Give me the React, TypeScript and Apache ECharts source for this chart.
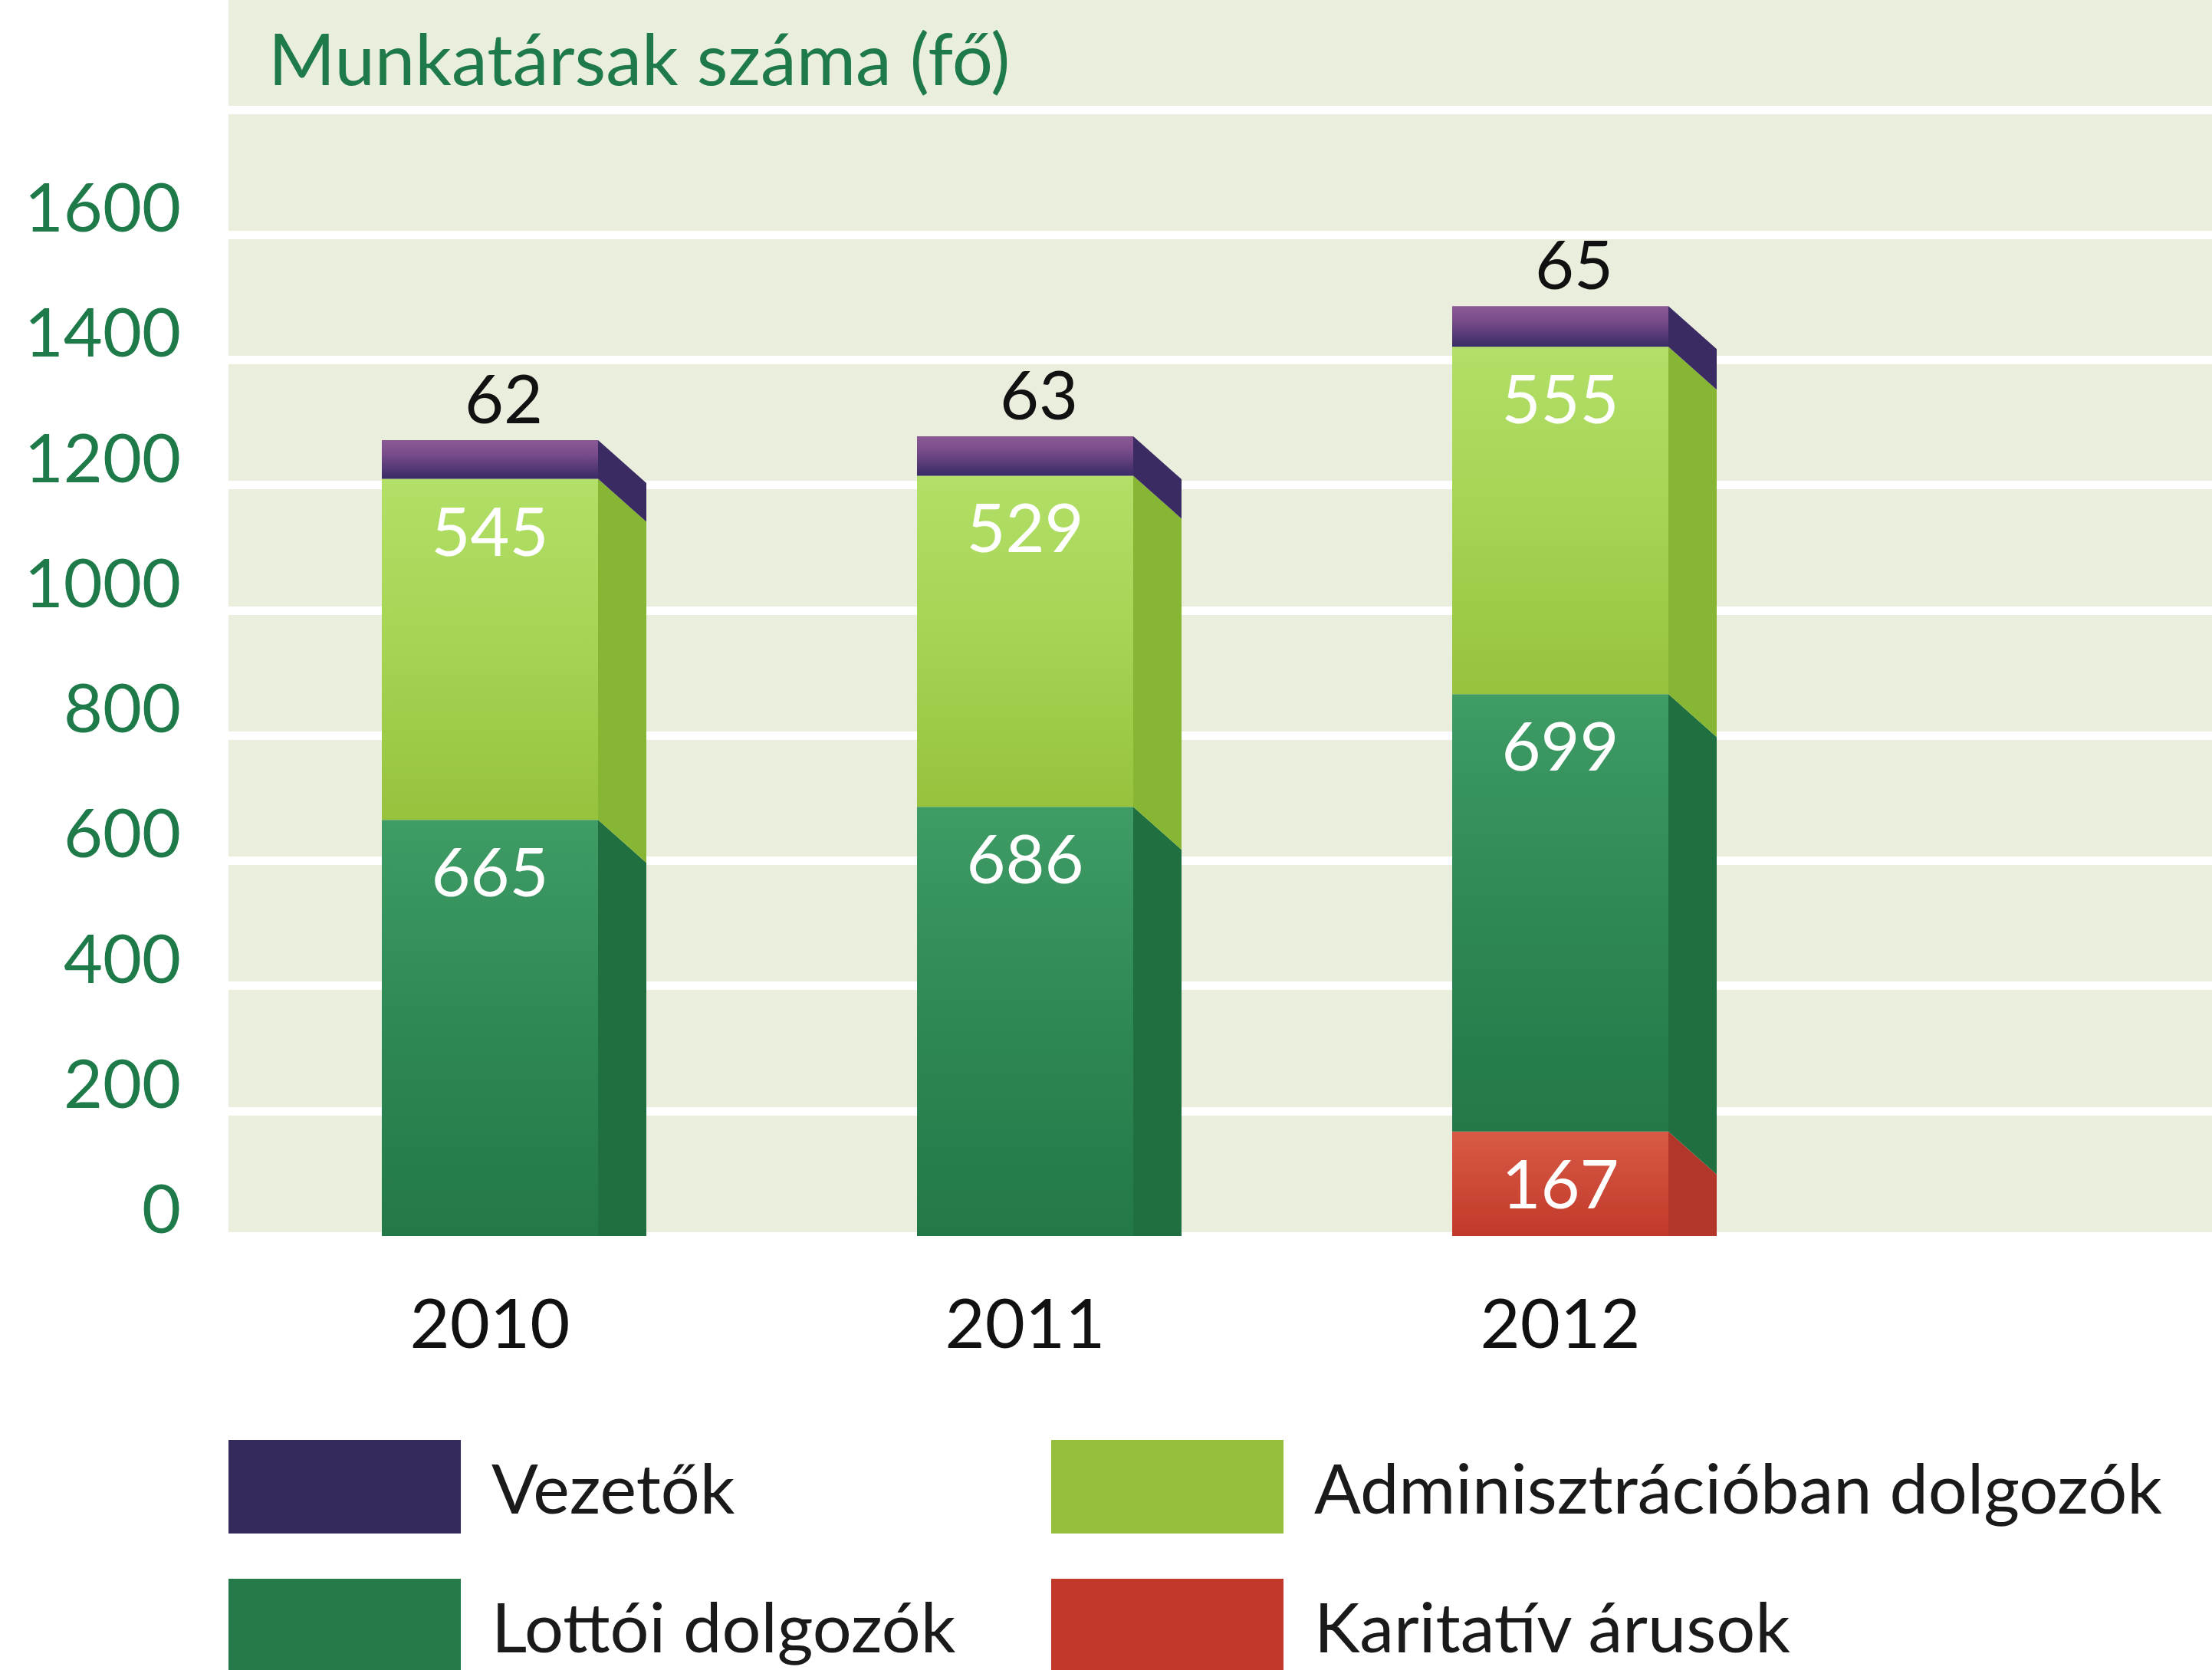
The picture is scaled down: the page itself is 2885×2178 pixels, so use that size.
import React, { useEffect, useRef } from 'react';
import * as echarts from 'echarts';

const CATEGORIES = ['2010', '2011', '2012'];
const KARITATIV = [0, 0, 167];
const LOTTOI = [665, 686, 699];
const ADMIN = [545, 529, 555];
const VEZETOK = [62, 63, 65];
const Y_TICK_LABELS = [0, 200, 400, 600, 800, 1000, 1200, 1400, 1600];
const NAME_KARITATIV = 'Karitatív árusok';
const NAME_LOTTOI = 'Lottói dolgozók';
const NAME_ADMIN = 'Adminisztrációban dolgozók';
const NAME_VEZETOK = 'Vezetők';
const TITLE = 'Munkatársak száma (fő)';

const FONT = 'Lato, "Noto Sans", sans-serif';
const BG = '#eaeedc';
const GREEN_TEXT = '#1f7a4a';
const FRONT_RATIO = 282 / 698;
const DX = 63;
const DY = 56;

type Look = { front: { offset: number; color: string }[]; side: string; legend: string; label: 'inside' | 'top' };

const LOOK_KARITATIV: Look = {
  front: [{ offset: 0, color: '#d85a46' }, { offset: 1, color: '#c2392a' }],
  side: '#b3362a', legend: '#c2392b', label: 'inside',
};
const LOOK_LOTTOI: Look = {
  front: [{ offset: 0, color: '#3f9c65' }, { offset: 0.45, color: '#2f8a55' }, { offset: 1, color: '#237848' }],
  side: '#1f6f40', legend: '#247a48', label: 'inside',
};
const LOOK_ADMIN: Look = {
  front: [{ offset: 0, color: '#b2e068' }, { offset: 0.5, color: '#a5d352' }, { offset: 1, color: '#96c23e' }],
  side: '#87b534', legend: '#95bf3c', label: 'inside',
};
const LOOK_VEZETOK: Look = {
  front: [{ offset: 0, color: '#8b5a95' }, { offset: 0.35, color: '#7a4c8b' }, { offset: 1, color: '#392b66' }],
  side: '#3a2b63', legend: '#33295a', label: 'top',
};

const STACKS = [KARITATIV, LOTTOI, ADMIN, VEZETOK];
const NAMES = [NAME_KARITATIV, NAME_LOTTOI, NAME_ADMIN, NAME_VEZETOK];
const LOOKS = [LOOK_KARITATIV, LOOK_LOTTOI, LOOK_ADMIN, LOOK_VEZETOK];

function buildRanges() {
  return STACKS.map((arr, si) =>
    arr.map((v, ci) => {
      let start = 0;
      for (let k = 0; k < si; k++) start += STACKS[k][ci];
      return [ci, start, start + v, v];
    })
  );
}

function makeRender(look: Look) {
  return (params: any, api: any) => {
    const v = api.value(3);
    if (!v) return { type: 'group', children: [] };
    const ci = api.value(0);
    const start = api.value(1);
    const end = api.value(2);
    const pt = api.coord([ci, end]);
    const pb = api.coord([ci, start]);
    const base = api.coord([ci, 0])[1];
    const band = api.size([1, 0])[0];
    const w = band * FRONT_RATIO;
    const x0 = pt[0] - w / 2;
    const x1 = x0 + w;
    const yT = pt[1];
    const yB = pb[1];
    const children: any[] = [
      {
        type: 'polygon',
        shape: {
          points: [
            [x1, yT],
            [x1 + DX, Math.min(yT + DY, base)],
            [x1 + DX, Math.min(yB + DY, base)],
            [x1, yB],
          ],
        },
        style: { fill: look.side },
      },
      {
        type: 'rect',
        shape: { x: x0, y: yT, width: w, height: yB - yT },
        style: { fill: new echarts.graphic.LinearGradient(0, 0, 0, 1, look.front) },
      },
    ];
    if (look.label === 'inside') {
      children.push({
        type: 'text',
        z2: 100,
        x: pt[0],
        y: yT + 66,
        style: { text: String(v), fill: '#ffffff', fontSize: 88, fontFamily: FONT, align: 'center', verticalAlign: 'middle' },
      });
    } else {
      children.push({
        type: 'text',
        z2: 100,
        x: pt[0] + 18,
        y: yT - 56,
        style: { text: String(v), fill: '#111111', fontSize: 88, fontFamily: FONT, align: 'center', verticalAlign: 'middle' },
      });
    }
    return { type: 'group', children };
  };
}

export default function App() {
  const ref = useRef<HTMLDivElement>(null);
  useEffect(() => {
    if (!ref.current) return;
    const chart = echarts.init(ref.current, null, { renderer: 'svg' });
    const ranges = buildRanges();
    const legendText = { fontSize: 90, fontFamily: FONT, color: '#1a1a1a', padding: [0, 0, 0, 35] };
    const legendBase = {
      orient: 'vertical', top: 1878, height: 600, padding: 0,
      itemWidth: 303, itemHeight: 122, itemGap: 59, icon: 'rect', selectedMode: false, textStyle: legendText,
    };
    const option: any = {
      animation: false,
      backgroundColor: '#ffffff',
      graphic: [
        { type: 'rect', z: -1, shape: { x: 298, y: 0, width: 2600, height: 138 }, style: { fill: BG } },
        {
          type: 'text', x: 350, y: 74,
          style: { text: TITLE, fill: GREEN_TEXT, fontSize: 94, fontFamily: FONT, align: 'left', verticalAlign: 'middle' },
        },
      ],
      grid: [
        { left: 298, right: 0, top: 143, bottom: 566, show: true, backgroundColor: BG, borderWidth: 0 },
        { left: 290, width: 698 * 3, top: 143, bottom: 566 },
      ],
      xAxis: [
        { type: 'category', gridIndex: 0, data: CATEGORIES, show: false },
        {
          type: 'category', gridIndex: 1, data: CATEGORIES,
          axisLine: { show: false }, axisTick: { show: false },
          axisLabel: { fontSize: 90, fontFamily: FONT, color: '#111111', margin: 67, lineHeight: 88 },
        },
      ],
      yAxis: [
        {
          type: 'value', gridIndex: 0, min: 0, max: 1800, interval: 200,
          axisLine: { show: false }, axisTick: { show: false },
          splitLine: { show: true, lineStyle: { color: '#ffffff', width: 11 } },
          axisLabel: {
            fontSize: 88, fontFamily: FONT, color: GREEN_TEXT, margin: 62,
            verticalAlign: 'bottom', lineHeight: 76,
            formatter: (val: number) => (Y_TICK_LABELS.indexOf(val) >= 0 ? String(val) : ''),
          },
        },
        { type: 'value', gridIndex: 1, min: 0, max: 1800, interval: 200, show: false, splitLine: { show: false } },
      ],
      legend: [
        { ...legendBase, data: [NAME_VEZETOK, NAME_LOTTOI], left: 298 },
        { ...legendBase, data: [NAME_ADMIN, NAME_KARITATIV], left: 1371 },
      ],
      series: NAMES.map((name, si) => ({
        type: 'custom',
        name,
        xAxisIndex: 1,
        yAxisIndex: 1,
        itemStyle: { color: LOOKS[si].legend },
        encode: { x: 0, y: [1, 2] },
        data: ranges[si],
        renderItem: makeRender(LOOKS[si]),
      })),
    };
    chart.setOption(option);
    return () => chart.dispose();
  }, []);
  return <div ref={ref} style={{ position: 'fixed', left: 0, top: 0, width: 2885, height: 2178 }} />;
}
